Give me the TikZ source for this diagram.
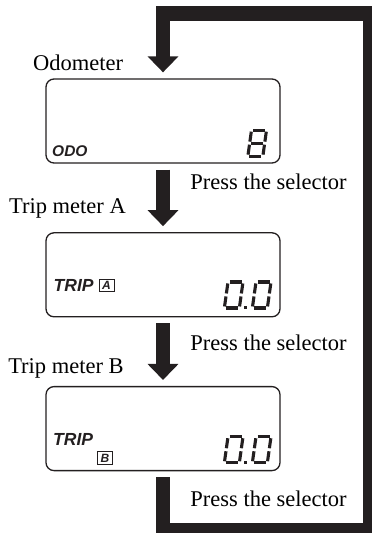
\documentclass[tikz,border=0pt]{standalone}
\usepackage{fontspec}
\setmainfont{Liberation Serif}
\setsansfont{Liberation Sans}
\usetikzlibrary{arrows.meta, positioning, calc}
\definecolor{inkBlack}{RGB}{35,31,32}

% segment lists for the lcd digits (x1/y1/x2/y2, y up)
\newcommand{\segzero}{3/27.5/15/27.5, 16.5/26/16.5/16, 16.5/13/16.5/3, 3/1.5/15/1.5, 1.5/13/1.5/3, 1.5/26/1.5/16}
\newcommand{\segeight}{3/27.5/15/27.5, 16.5/26/16.5/16, 16.5/13/16.5/3, 3/1.5/15/1.5, 1.5/13/1.5/3, 1.5/26/1.5/16, 3/14.5/15/14.5}
\newcommand{\lcddigit}[2]{%
  \begin{scope}[shift={#1}, xslant=0.14, yscale=-1]
    \foreach \xa/\ya/\xb/\yb in #2 {\draw[lcdseg] (\xa,\ya) -- (\xb,\yb);}
  \end{scope}}

\begin{document}
\begin{tikzpicture}[
    x=1pt, y=-1pt,
    node distance=68.5pt,
    lcdbox/.style={rectangle, draw=inkBlack, line width=1.3pt, rounded corners=8pt, minimum width=234pt, minimum height=84pt, inner sep=0pt},
    lbl/.style={inner sep=0pt, anchor=base, font=\fontsize{22.5}{27}\selectfont},
    lcdtxt/.style={inner sep=0pt, anchor=base west, text=inkBlack, font=\sffamily\bfseries\itshape\fontsize{17.5}{19}\selectfont},
    tagbox/.style={draw=inkBlack, line width=1pt, inner sep=0pt, minimum width=15pt, minimum height=12.5pt, text=inkBlack, font=\sffamily\bfseries\itshape\fontsize{12}{12}\selectfont},
    lcdseg/.style={draw=inkBlack, line width=3.1pt, line cap=butt},
    flowarrow/.style={draw=inkBlack, line width=14.5pt, line join=miter, -{Triangle[length=16pt, width=30pt]}, shorten <=6pt, shorten >=6pt},
    >=Latex
]
\path[use as bounding box, clip] (0,0) rectangle (372,533);

\node[lcdbox] (odo) at (163,121) {};
\node[lcdbox, below=of odo] (tripa) {};
\node[lcdbox, below=of tripa] (tripb) {};

\node[lbl] (lodo) at (78,70.7) {Odometer};
\node[lbl] (ltripa) at (67.5,213) {Trip meter A};
\node[lbl] (ltripb) at (66,373) {Trip meter B};
\node[lbl] (press1) at (268.5,189) {Press the selector};
\node[lbl] (press2) at (268.5,350) {Press the selector};
\node[lbl] (press3) at (268.5,506.7) {Press the selector};

% display texts
\node[lcdtxt, font=\sffamily\bfseries\itshape\fontsize{15.5}{17}\selectfont] (odotxt) at (52,156.7) {ODO};
\node[lcdtxt] (tripatxt) at (53.5,291) {TRIP};
\node[tagbox] (taga) at (106.5,285.5) {A};
\node[lcdtxt] (tripbtxt) at (53,445) {TRIP};
\node[tagbox] (tagb) at (105,458) {B};

% lcd digits
\lcddigit{($(odo.south east)+(-34.5,-6)$)}{\segeight}
\lcddigit{($(tripa.south east)+(-58,-8)$)}{\segzero}
\lcddigit{($(tripa.south east)+(-30,-8)$)}{\segzero}
\fill[inkBlack] ($(tripa.south east)+(-37,-8)$) rectangle ++(3.2,-3.2);
\lcddigit{($(tripb.south east)+(-58,-7)$)}{\segzero}
\lcddigit{($(tripb.south east)+(-30,-7)$)}{\segzero}
\fill[inkBlack] ($(tripb.south east)+(-37,-7)$) rectangle ++(3.2,-3.2);

% flow
\coordinate (lowright) at (370,530);
\coordinate (upright) at (370,13.5);
\draw[flowarrow] (odo) -- (tripa);
\draw[flowarrow] (tripa) -- (tripb);
\draw[flowarrow] (tripb.south) |- (lowright) -- (upright) -| (odo.north);
\end{tikzpicture}
\end{document}
